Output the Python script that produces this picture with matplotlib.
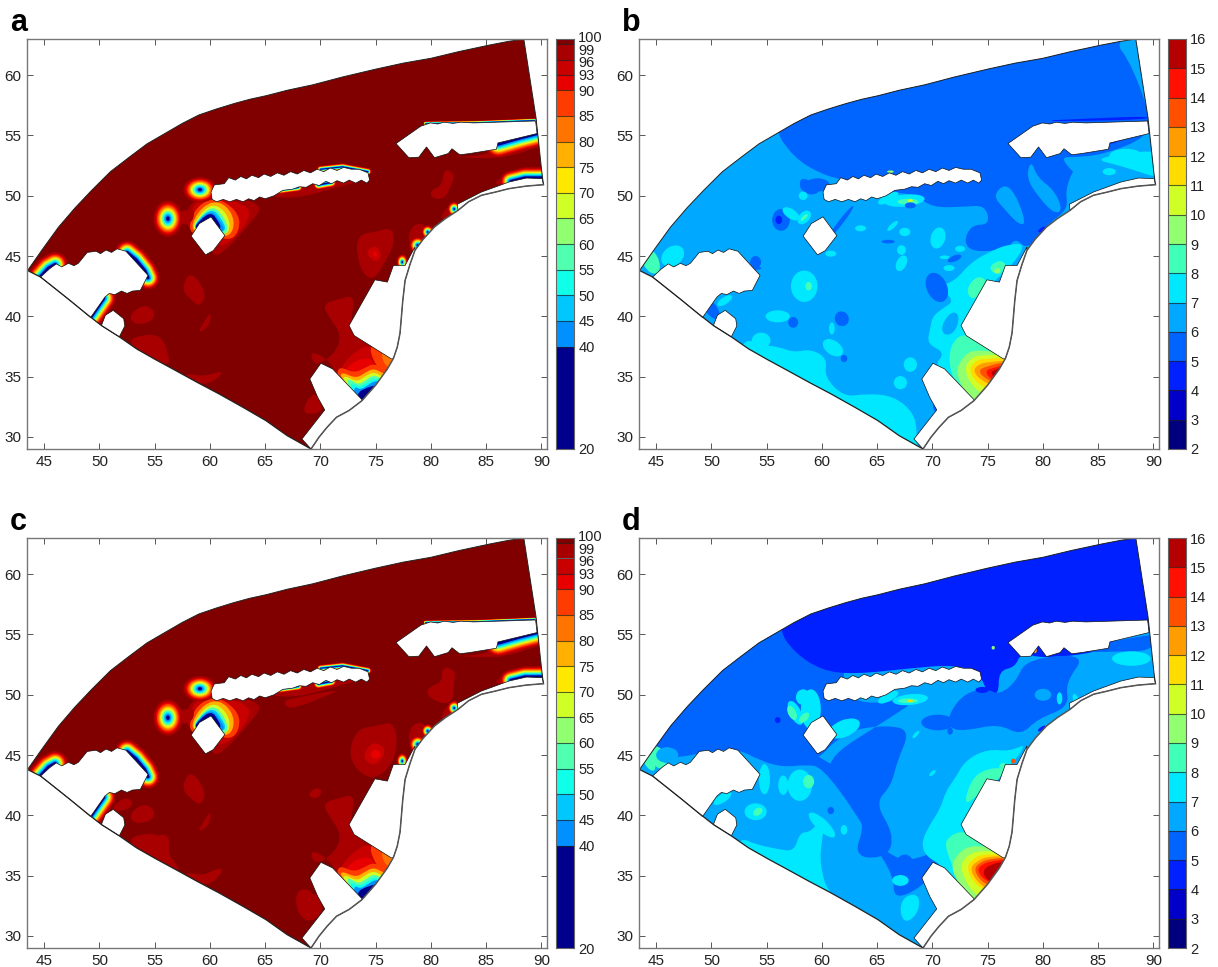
import matplotlib
matplotlib.use('Agg')
import matplotlib.pyplot as plt
from matplotlib.patches import Ellipse, PathPatch, Polygon
from matplotlib.path import Path
from matplotlib.transforms import ScaledTranslation

plt.rcParams['font.family'] = ['Liberation Sans', 'DejaVu Sans']

# colour classes: lower bound of each class, taken from the two colorbars
pct_levels = [20, 40, 45, 50, 55, 60, 65, 70, 75, 80, 85, 90, 93, 96, 99, 100]
pct_colors = ['#00008c', '#0090ff', '#00c8ff', '#10ffe8', '#50ffb0', '#90ff70', '#d0ff28', '#ffe800',
              '#ffb000', '#ff7400', '#ff3c00', '#e80000', '#c80000', '#a80000', '#800000']
err_levels = list(range(2, 17))
err_colors = ['#00007f', '#0000c8', '#0020ff', '#0064ff', '#00a8ff', '#00e8ff', '#40ffb8', '#90ff70',
              '#d0ff28', '#ffdc00', '#ff9c00', '#ff5000', '#ff1000', '#b40000']
x_ticks = [45, 50, 55, 60, 65, 70, 75, 80, 85, 90]
y_ticks = [30, 35, 40, 45, 50, 55, 60]

# domain outline
upper_edge = [(43.5, 43.8), (44.8, 45.5), (46.3, 47.4), (47.8, 49), (49.3, 50.45), (51, 52), (52.7, 53.2), (54.3, 54.3),
              (55.9, 55.15), (57.5, 56), (59.0, 56.7), (60.6, 57.2), (62.2, 57.65), (63.6, 58), (65.1, 58.3),
              (67, 58.75), (69.3, 59.2), (72, 59.85), (75, 60.5), (77.5, 61), (80, 61.4), (82.5, 61.95), (85.3, 62.5),
              (87, 62.8), (88.4, 63)]
east_edge = [(89.5, 56.5), (90.05, 51.8), (90.18, 50.92)]
coast = [(90.18, 50.92), (88.6, 50.8), (87.06, 50.59), (85.8, 50.3), (84.57, 50.04), (83.4, 49.5), (82.45, 48.79),
         (81.3, 48.1), (80.32, 47.41), (79.3, 46.4), (78.55, 45.47), (78.1, 44.3), (77.66, 42.98), (77.45, 41.3),
         (77.3, 39.66), (77.2, 38.6), (76.95, 37.44), (76.6, 36.5), (76.06, 35.64), (75, 34.3), (73.76, 33.01),
         (72.6, 32.2), (71.45, 31.63), (70.6, 30.8), (69.86, 29.97), (69.15, 29.0)]
lower_edge = [(69.15, 29.0), (67, 30.1), (65.07, 31.35), (63, 32.45), (60.82, 33.57), (58.9, 34.5), (56.91, 35.5),
              (55.1, 36.4), (53.37, 37.3), (51.8, 38.3), (50.18, 39.24), (48.7, 40.3), (47.34, 41.32), (46, 42.3),
              (44.68, 43.26), (43.5, 43.8)]

# blanked areas
hole_nw = [(44.68, 43.26), (45.5, 43.95), (46.1, 44.35), (46.6, 44.1), (47.2, 44.4), (47.7, 44.2), (48.1, 44.4),
           (48.9, 45.3), (49.7, 45.4), (50.1, 45.2), (50.6, 45.5), (51.1, 45.3), (51.6, 45.6), (52.4, 45.4),
           (54.4, 43.4), (53.7, 42.15), (53, 42.1), (52.5, 41.9), (52, 42.1), (51.4, 41.8), (50.9, 41.9),
           (50.5, 41.6), (49.2, 39.9), (48.7, 40.3), (47.34, 41.32), (46, 42.3)]
hole_small = [(50.18, 39.24), (50.55, 40.1), (51.25, 40.5), (52.2, 39.8), (52.3, 39.2), (51.8, 38.3)]
hole_hex = [(58.3, 46.65), (59.05, 47.7), (60.1, 48.25), (61.35, 46.7), (60.3, 45.45), (59.6, 45.1)]
hole_long = [(60.1, 50.3), (60.4, 50.9), (61.3, 51), (61.7, 51.5), (62.3, 51.3), (62.8, 51.6), (63.3, 51.4),
             (63.8, 51.7), (64.4, 51.5), (64.9, 51.8), (65.5, 51.6), (66.1, 51.9), (66.7, 51.7), (67.3, 52),
             (67.9, 51.8), (68.5, 52.1), (69.1, 51.9), (69.7, 52.2), (70.3, 52), (70.9, 52.3), (71.5, 52.1),
             (72.1, 52.35), (72.8, 52.2), (73.5, 52.2), (74.3, 51.9), (74.45, 51.3), (74.2, 51.05), (73.7, 51.3),
             (73.2, 51.05), (72.6, 51.3), (72.1, 51.05), (71.5, 51.25), (71, 51), (70.5, 51.2), (69.9, 50.85),
             (69.3, 51), (68.7, 50.7), (68.1, 50.75), (67.5, 50.55), (66.6, 50.45), (65.8, 50), (65, 49.75),
             (64.5, 49.9), (64, 49.6), (63.5, 49.75), (63, 49.5), (62.4, 49.7), (61.8, 49.5), (61.2, 49.7),
             (60.6, 49.5), (60.2, 49.7)]
hole_ne = [(76.84, 54.33), (79.08, 55.77), (79.96, 56.04), (80.6, 55.95), (81.2, 56.1), (82, 56), (82.7, 56.1), (83.87, 56.04),
           (89.47, 56.2), (89.6, 55.16), (86.06, 54.38), (85.92, 53.86), (83.5, 53.5), (82.6, 53.4), (81.9, 53.9),
           (81.56, 53.5), (80.32, 53.16), (79.6, 54.05), (78.9, 53.2), (78, 53.16)]
hole_strip = [(90.07, 51.42), (88.65, 51.47), (87.06, 51.14), (84.57, 50.31), (82.38, 49.29)] + coast[6::-1]
hole_east = [(78.55, 45.75), (77.66, 44.22), (76.6, 44.22), (76.06, 42.84), (74.93, 43.03), (72.59, 39.24),
             (73.05, 38.41), (76.42, 36.47)] + coast[10:18][::-1]
hole_south = [(70.04, 36.11), (71.1, 35.64), (73.76, 33.09)] + coast[20:26] + [(68.33, 29.83), (70.39, 32.24),
                                                                               (69.75, 33.29), (69.04, 34.81)]
holes = [hole_nw, hole_small, hole_hex, hole_long, hole_ne, hole_strip, hole_east, hole_south]

# panels a and c: sharp fronts along the blanked areas (line, width)
fronts_pct = [
    ([(52.5, 45.3), (53.3, 44.7), (54.1, 43.8), (54.4, 43.2)], 17),
    ([(44.7, 43.3), (45.4, 44.0), (46, 44.3)], 18),
    ([(49.2, 39.9), (50.4, 41.5)], 17),
    ([(86.1, 54.3), (88, 54.8), (89.7, 55.2)], 20),
    ([(87.2, 51.2), (88.5, 51.5), (90.2, 51.5)], 15),
    ([(66, 50.45), (68, 50.7)], 6),
    ([(69.8, 50.9), (71, 51.1)], 7),
    ([(70, 52.2), (72, 52.4), (74.3, 52)], 5),
    ([(79.5, 56.0), (84, 56.05), (89.4, 56.25)], 3),
]
rings_pct = [(56.2, 48.1, 2.6, 3.0, 0), (59.1, 50.5, 3.0, 2.1, 0),
             (79.7, 47.0, 1.1, 1.1, 0), (77.4, 44.5, 1.0, 1.3, 0), (82.1, 48.9, 1.2, 1.2, 0), (78.8, 45.9, 1.5, 1.4, 0)]

regions_a = [
    (96, [(57.7, 43), (58.3, 43.6), (59.3, 42.6), (59.6, 41.5), (59, 40.8), (58.2, 41.5), (57.6, 42)]),
    (96, [(52.8, 40.2), (54, 41), (55, 40.5), (54.9, 39.7), (53.8, 39.3), (52.9, 39.5)]),
    (96, [(58.9, 38.6), (59.5, 39.6), (60.1, 40.4), (60, 39.4), (59.5, 38.9)]),
    (96, [(52.5, 38), (54, 38.5), (55.6, 38.4), (56.2, 37), (56.4, 35.8), (54, 36.5)]),
    (96, [(57.7, 35.3), (59.5, 35), (61.5, 35.6), (60, 34.3), (58, 34.6)]),
    (96, [(73.2, 45.5), (73.5, 46.8), (75, 47), (76.5, 47.4), (76.7, 46), (76, 44.8), (74.9, 43), (73.8, 43.5)]),
    (93, [(74, 45.3), (75, 46), (75.6, 45), (75, 44.4)]),
    (90, [(74.7, 45.2), (75, 45.5), (75.2, 45), (74.9, 44.9)]),
    (96, [(80, 49.8), (80, 50.5), (81, 50.8), (81.2, 52.3), (82.2, 51.8), (81.8, 50.8), (81.2, 49.7)]),
    (96, [(80.9, 48.1), (81.3, 49), (82.4, 49.4), (82.5, 48.7), (81.5, 47.9)]),
    (96, [(77.9, 46.7), (78.5, 47.7), (79.5, 47.6), (80, 46.8), (79, 45.6), (78.2, 45.7)]),
    (96, [(85.5, 51), (87, 51.8), (90, 52.6), (90.3, 51.3), (87, 50.8)]),
    (96, [(81, 53.3), (84, 53.2), (86, 53.8), (89.7, 55), (89.8, 54), (86, 53)]),
    (96, [(65, 50.3), (68, 50.8), (71, 51.2), (74, 51.3), (71.5, 50.7), (68, 49.8), (65.5, 49.9)]),
    (96, [(57.6, 47.5), (58.2, 49.6), (60.5, 50), (65, 49.4), (63.6, 47.6), (60.5, 44.6), (60, 46)]),
    (93, [(58, 47.2), (58.5, 49.6), (60.5, 49.9), (63.5, 49.2), (63.6, 48), (61.6, 45.8), (60, 46)]),
    # crescent above the small diamond
    (85, [(58, 46.8), (58.5, 48.8), (60, 49.8), (61.5, 49.5), (62.9, 48.1), (62.2, 46.2), (60, 46.8)]),
    (75, [(58.2, 47), (58.8, 48.6), (60.2, 49.6), (61.5, 49.2), (62.3, 47.9), (61.8, 46.5), (60, 46.9)]),
    (65, [(58.3, 47.1), (59, 48.4), (60.2, 49.35), (61.3, 48.8), (61.9, 47.6), (61.5, 46.7), (60, 47)]),
    (55, [(58.4, 47.2), (59, 48.2), (60.2, 49.15), (61.1, 48.5), (61.7, 47.3), (61.3, 46.7), (60, 47)]),
    (45, [(58.5, 47.2), (59, 48.1), (60.2, 48.95), (61, 48.2), (61.6, 47), (60, 47)]),
    (40, [(58.5, 47.2), (59, 48), (60.1, 48.8), (60.8, 48.1), (61.5, 47), (60, 47)]),
    (20, [(58.5, 47.2), (59.1, 48), (60.1, 48.65), (60.7, 48), (61.1, 47.2), (60, 47)]),
    (96, [(56.5, 48.6), (57.5, 48.7), (58.6, 49), (58.5, 47.8), (57.3, 47.5)]),
    (96, [(69.6, 33.8), (68.6, 32.8), (68.5, 31.8), (70.4, 32.1)]),
    # south east plume, outlines run on under the blanked areas
    (96, [(70.2, 41), (71.5, 41.4), (73.2, 41.8), (72.6, 39.2), (75, 38.5), (77.5, 36.8), (76, 34), (73.8, 32), (71.5, 35),
          (70.8, 36.4), (69, 37.2), (69.5, 35.8), (71.4, 37), (71.9, 38.5), (70.8, 39.9)]),
    (93, [(72.3, 36.3), (73.2, 37.1), (74.4, 37.7), (76.9, 36.5), (76, 34.4), (74.2, 33), (71.7, 35.5)]),
    (85, [(74.4, 37.55), (74.8, 36.3), (75.3, 35.7), (76, 35.5), (77.2, 36.3), (75.7, 38)]),
    (80, [(75.5, 37.1), (75.7, 36.1), (76.4, 35.6), (77.3, 36.2), (76.3, 37.2)]),
    (75, [(75, 37.6), (76.6, 36.8), (76.6, 36.2), (76, 36.8)]),
    (90, [(72, 35.3), (72.8, 36.1), (73.7, 36.5), (74.6, 36.5), (74.9, 35.9), (74.2, 35.5), (73.2, 35.1)]),
    (85, [(71.6, 35.9), (73, 35.3), (74, 35.7), (74.8, 36.1), (75.7, 35.7), (76.7, 35.2), (76.5, 33.5), (74.2, 32.5),
          (71.5, 34.8)]),
    (75, [(71.9, 35.4), (73.2, 34.85), (74, 35.3), (74.8, 35.7), (75.7, 35.25), (76.7, 35), (76.5, 33.5), (74.2, 32.5),
          (71.8, 34.9)]),
    (65, [(72.2, 35.1), (73.3, 34.55), (74, 35), (74.8, 35.4), (75.6, 35), (76.5, 34.7), (76.5, 33.5), (74.2, 32.5),
          (72, 34.7)]),
    (55, [(72.5, 34.9), (73.4, 34.3), (74.1, 34.7), (74.8, 35.15), (75.6, 34.8), (76.3, 34.5), (76, 33), (74.2, 32.5),
          (72.4, 34.3)]),
    (50, [(72.8, 34.5), (73.5, 34.1), (74.2, 34.5), (74.9, 34.9), (75.5, 34.65), (76, 34.3), (75, 32.5), (74, 32.5),
          (72.7, 34)]),
    (40, [(73.1, 34.2), (73.6, 33.9), (74.3, 34.3), (75, 34.7), (75.6, 34.5), (75.8, 34), (74.5, 32.5), (73, 33.5)]),
    (20, [(73.4, 33.7), (74, 34), (74.6, 34.2), (75.4, 34.35), (75.7, 33.8), (74.4, 32.6), (73.4, 33.2)]),
]
extra_c = [
    (96, [(73, 44), (72.6, 45.5), (73.4, 47.2), (75, 47.4), (76.7, 47.8), (77, 45.5), (76, 43.6), (74.5, 43)]),
    (93, [(73.8, 45), (74.8, 46.2), (76, 45.5), (75.3, 44.3), (74.4, 44.2)]),
    (90, [(74.4, 45), (75, 45.6), (75.6, 45), (75, 44.6)]),
    (96, [(79.5, 50), (79.9, 50.7), (81, 51), (81, 52.4), (82.3, 52), (82, 50.6), (82, 49.5), (81, 49.2)]),
    (96, [(69, 41.9), (69.6, 42.3), (70.2, 42.1), (69.8, 41.4), (69, 41.5)]),
    (96, [(50.9, 40.5), (52.4, 41.6), (53.2, 41), (52.2, 40.3)]),
    (96, [(66.6, 49.5), (68, 49.8), (72, 50.5), (70, 49.7), (68, 49), (67, 48.9)]),
    (96, [(53.5, 37.5), (55.5, 38.5), (56.4, 38.2), (56.2, 36.7), (57.5, 35.4), (56, 35.3)]),
    (96, [(59, 34.9), (61.5, 35.9), (60.2, 34.2), (58.6, 34.4)]),
    (96, [(67.8, 33.6), (68.6, 34), (69.5, 33.4), (70.4, 32), (68.8, 31), (67.8, 32.2)]),
]

# panels b and d: painted in order, each entry is (class, outline)
regions_b = [
    (5, [(55.5, 55.8), (57.4, 53.2), (59.9, 51.8), (62, 51.3), (66, 50.3), (68.5, 50.1), (70, 49), (73, 49.1),
         (74.8, 49.2), (75.2, 47.6), (73.5, 47.6), (72.8, 46.1), (73.8, 45.3), (76.8, 45.6), (77.5, 46.5),
         (78.5, 45.6), (79.5, 46.5), (80.5, 47.7), (82.3, 48.9), (82, 50.5), (83, 52.7), (85.4, 53.4),
         (89.6, 54.9), (89.5, 57), (88.8, 59), (87.6, 61.5), (86.6, 62.6), (88.4, 64), (55, 64)]),
    (6, [(76.5, 51), (77.5, 50.2), (78.5, 47.7), (77.8, 47.6), (76.4, 49), (75.5, 50)]),
    (6, [(78.9, 53), (79.5, 51.5), (81, 50.5), (81.8, 48.8), (81, 48.5), (79.5, 50), (78.5, 51.5)]),
    (6, [(81.5, 53.2), (83, 53.2), (85.3, 53.4), (89.9, 54.8), (91, 54), (91, 51), (88, 51.3), (85, 50.2), (83.2, 51.5)]),
    (7, [(84.8, 53), (87, 53.5), (91, 53.8), (91, 51.3), (88, 52.2), (86.5, 52.6)]),
    (4, [(89.6, 55.2), (87, 54.6), (86, 54.2), (86.2, 54.7), (87, 55.2)]),
    (4, [(79.4, 56.2), (84, 56.2), (89.5, 56.35), (89.5, 56.6), (84, 56.4)]),
    (5, [(58, 51.4), (58.7, 51.4), (60, 50.4), (59, 50), (58, 50.5)]),
    (7, [(53, 38.2), (54.5, 37.6), (56, 37.5), (57.5, 37), (59, 37.3), (60.5, 36.5), (60.2, 35), (62, 33.3),
         (64, 33.6), (66.5, 33.4), (68.3, 32), (68.6, 30.5), (68.5, 29.5), (69.3, 28), (60, 31), (52, 36)]),
    (7, [(70, 35.8), (71.2, 37), (69.5, 37.7), (69.8, 39), (70, 40), (71, 40.7), (72, 41.3), (70.5, 42.5), (72, 42.9),
         (73.5, 44.5), (75.5, 45.5), (77, 46), (78.5, 46), (77, 44), (75, 42.5), (72.5, 38.5), (77, 37), (74, 32)]),
    (6, [(70.8, 39.3), (71.8, 40.5), (72.5, 40), (72, 38.6), (71, 38.4)]),
    (8, [(73, 42.2), (74, 43.4), (75, 43), (74.4, 42), (73.6, 41.3)]),
    (8, [(75, 44), (76, 44.7), (76.8, 44.3), (76, 43.3)]),
    (9, [(75.5, 43.8), (76, 44.1), (76.2, 43.7), (75.8, 43.5)]),
    (8, [(71.5, 37.6), (73, 38.8), (77.5, 37), (76, 33), (73.8, 32), (71.6, 35)]),
    (9, [(72, 35.2), (72.7, 36.6), (73.8, 37.3), (77.3, 36.8), (75.5, 33), (73.8, 32.5)]),
    (10, [(72.8, 35.5), (73.5, 36.6), (74.5, 36.8), (77, 36.8), (75.5, 33.6), (74, 33.7)]),
    (11, [(73.2, 35.5), (74, 36.4), (75, 36.5), (77, 36.6), (75.6, 34), (74.3, 34.2)]),
    (12, [(73.6, 35.5), (74.3, 36.1), (75.2, 36.2), (77, 36.4), (75.7, 34.2), (74.5, 34.6)]),
    (13, [(74.1, 35.5), (75, 35.9), (77, 36.3), (75.9, 34.4), (74.8, 34.8)]),
    (14, [(74.8, 35.5), (75.4, 35.7), (77, 36.1), (76, 34.5), (75.1, 34.9)]),
    (15, [(75.2, 35.3), (75.7, 35.6), (76.8, 35.9), (76, 34.6)]),
]
spots_b = [
    (5, 56.3, 48, 1.6, 1.8, 0), (4, 56.1, 48, .6, .7, 0), (5, 59.6, 50.9, 2.2, 1.1, 0), (7, 58.3, 50, .8, .7, 0),
    (7, 57.2, 48.5, .8, 1.7, 60), (7, 58.4, 48.2, 1.4, .9, 40), (8, 58.4, 48.2, .8, .3, 40),
    (7, 66, 49.8, 2.0, .7, 25), (7, 67.5, 49.6, 3.6, 1.0, 5), (8, 67.8, 49.5, 1.9, .5, 0), (10, 68, 49.6, .5, .25, 0),
    (7, 63.5, 47.3, 1.0, .5, 0), (7, 67.5, 47, 1.0, .7, 0), (7, 66.4, 47.5, 1.2, .4, 40), (5, 61.7, 47.8, 3.5, .4, 50),
    (7, 58.4, 42.5, 2.4, 2.6, 0), (8, 58.8, 42.5, .6, .7, 0), (7, 67.2, 44.4, 1.4, .9, 60), (7, 70.5, 46.5, 1.8, 1.3, 70),
    (5, 68, 49.2, 1.0, .5, 0), (5, 70.4, 42.4, 1.8, 2.6, 30), (5, 72, 44.8, 1.3, .5, 20), (7, 71.5, 44, 1.0, .5, 0),
    (7, 56, 40, 2.2, 1, 0), (5, 57.4, 39.5, .9, .9, 0), (5, 61.8, 39.8, 1.2, 1.3, 60), (7, 61, 37.4, 1.2, 2, 60),
    (7, 60.9, 39.0, .5, 1.0, 0), (7, 54.5, 38, 1.7, 1.3, 0), (7, 68, 36, 1.2, 1.2, 0), (7, 67.1, 34.5, 1.2, 1.1, 0),
    (5, 70.3, 32.6, .5, 1, 0), (5, 62, 36.5, .6, .6, 0), (5, 50, 40.6, 1, 2, 40), (7, 51.2, 41.3, 1.5, .6, 30),
    (7, 46.5, 45, 2.2, 1.6, 30), (8, 44.5, 44.6, 1.4, 2.3, 30), (7, 67.2, 45.5, .8, .8, 0), (7, 72.5, 45.6, .9, .5, 0),
    (5, 54, 44.5, 1.0, 1.0, 0), (5, 54, 44, 1.0, .3, 0), (7, 87.5, 53.3, 3, 1.2, 0), (7, 86, 52, 1.2, .6, 0),
    (3, 87.9, 50.9, 1.0, .5, 0), (2, 88, 50.8, .4, .3, 0), (4, 79.9, 47.2, .8, .3, 30), (5, 78.5, 44.4, .9, .4, 0),
    (5, 66, 46.2, 1.2, .3, 0), (7, 60.8, 45.2, 1, .5, 0), (7, 71.1, 44.9, .9, .3, 0), (9, 66.2, 52, .6, .2, 0),
]
regions_d = [
    (5, [(55.7, 55.3), (58, 52.5), (60, 51.8), (60, 50), (58, 50.5), (57, 48.5), (58, 46), (61, 44), (63, 44),
         (65, 46), (66, 45), (64, 41.5), (66, 38), (64.5, 38), (67, 36.2), (69, 36.5), (70, 37), (71, 36.2),
         (69, 34), (66.5, 33), (66.5, 35), (64.5, 37.8), (63, 40.3), (60, 44), (58.6, 44.2), (56.5, 44),
         (54.5, 44.5), (52, 45.7), (45.5, 44.5), (44.8, 45.5), (46, 49), (50, 52), (55, 56)]),
    (5, [(46, 44.8), (44.2, 46.5), (47, 52), (55, 57), (58, 54), (62, 54), (62, 49), (69, 49.8), (66, 48), (60, 44.5),
         (62, 42.5), (64, 39.5), (62.8, 36.5), (66, 36.5), (66.5, 38.5), (64.8, 41), (66.3, 42.5), (66.8, 44.5),
         (68, 47), (66, 47.5), (62, 47), (59, 44), (55, 44.5), (52.5, 45.8)]),
    (4, [(56, 55.5), (57.5, 53.5), (60, 52), (63, 51.7), (68, 52.2), (72, 52.5), (74.3, 51.8), (75, 50), (76, 50),
         (76, 52), (77.5, 52.3), (78, 53.5), (80, 53), (85, 53.5), (86, 54.4), (89.7, 55.3), (91.5, 55.5), (91.5, 65),
         (55, 65)]),
    (5, [(75, 50.5), (73, 50.2), (71.5, 48.5), (71.5, 47.2), (73, 47), (76, 47.6), (78, 46.6), (79.5, 48),
         (82.4, 49), (82, 51), (84, 53.4), (78.5, 53), (77.5, 51), (76, 50)]),
    (5, [(83.5, 53.5), (86, 54.4), (89.9, 55), (91, 55), (89.6, 53.6), (87, 53.6)]),
    (7, [(52.5, 38.2), (54, 37.6), (56, 37.2), (57.5, 37), (58, 38.6), (59, 38.6), (60.4, 40.2), (60, 38),
         (59.8, 36), (60.6, 33.3), (65, 31), (68.6, 29.2), (69.3, 28), (60, 31), (52, 36)]),
    (7, [(67.6, 31), (68.8, 32), (68.8, 33.5), (67.4, 33.3), (67, 32)]),
    (7, [(69.4, 36.6), (69, 37.7), (69.6, 39), (70.7, 40.5), (71.2, 42), (72, 43), (73, 44.6), (75, 45.5),
         (77, 45.3), (78.6, 46), (77, 44), (75, 42.5), (72.5, 38.5), (77, 37), (74, 32), (71, 35.8)]),
    (8, [(72.8, 40.6), (73.4, 42.8), (74.6, 43.8), (76.6, 44), (76, 42.9), (75, 42.5)]),
    (8, [(71, 37.3), (71.5, 38.3), (73, 38.8), (77.5, 37), (76, 32.5), (73.8, 32)]),
    (9, [(71.5, 35.5), (72.4, 37), (73.8, 37.6), (77.3, 36.9), (75.5, 32.8), (73.8, 32.5)]),
    (10, [(72.4, 35.5), (73, 36.6), (74.2, 37.1), (77, 36.9), (75.5, 33.3), (74, 33.1)]),
    (11, [(73, 35.5), (73.6, 36.4), (74.6, 36.8), (77, 36.7), (75.6, 33.9), (74.3, 33.8)]),
    (12, [(73.3, 35.5), (74, 36.2), (75, 36.6), (77, 36.6), (75.6, 34), (74.5, 34)]),
    (13, [(73.7, 35.5), (74.3, 36.1), (75.2, 36.4), (77, 36.5), (75.7, 34.2), (74.6, 34.3)]),
    (14, [(74, 35.5), (74.6, 36), (75.4, 36.2), (77, 36.4), (75.8, 34.3), (74.7, 34.6)]),
    (15, [(74.5, 35.3), (75.1, 35.9), (77, 36.3), (75.9, 34.2), (75, 34.6)]),
]
spots_d = [
    (7, 59, 48.8, 1.8, 3.3, 0), (7, 57.6, 48.5, 1, 2.2, 30), (8, 57.3, 48.5, .7, 1.3, 30), (8, 58.4, 48.1, 1.1, .6, 40),
    (8, 58.3, 50, .7, .6, 0), (7, 58.3, 49.8, 1.3, 1.3, 0), (5, 56.3, 48, .6, .6, 0), (4, 56, 47.9, .5, .5, 0),
    (7, 62, 47.2, 3, 1.4, 20), (7, 66, 49.8, 2, .7, 25), (7, 68, 49.6, 3.2, .9, 5), (8, 67.8, 49.5, 1.8, .4, 0),
    (11, 68, 49.5, .5, .2, 0), (5, 60.8, 40.4, .6, .6, 0), (5, 65, 48.2, 1.3, .5, 0), (4, 74.5, 50.4, 1.2, .5, 0),
    (7, 58, 42.5, 2.2, 2.6, 0), (8, 58.8, 42.8, 1.0, 1.1, 0), (7, 54.8, 43, 1, 2.5, 0), (7, 56.5, 42.5, .9, 1.6, 0),
    (6, 53, 39.6, 2.4, 1.4, 0), (7, 54, 40.3, 2, 1.4, 0), (8, 54.2, 40.3, .9, .6, 30), (7, 51, 41.4, 1.8, .7, 30),
    (7, 60, 39.2, 1, 3, 50), (7, 62, 38.8, .6, .8, 0), (7, 67.1, 34.6, 1.5, .9, 0), (5, 67.5, 36, 1.5, 1.5, 0),
    (5, 70.5, 47.7, 3, 1.3, 0), (7, 68.5, 46.7, .8, .3, 45), (7, 70, 43.5, .7, .3, 40), (5, 71.6, 47, .5, .6, 0),
    (12, 79.3, 53.7, .3, .5, 0), (13, 64, 51.5, .3, .2, 0), (12, 73.4, 51.9, .3, .3, 0), (9, 75.5, 53.9, .3, .3, 0),
    (13, 77.3, 44.5, .4, .4, 0), (8, 76.4, 44, .7, .7, 0), (3, 87.9, 50.9, 1, .5, 0), (2, 88, 50.8, .4, .3, 0),
    (4, 79.9, 47.2, .8, .3, 30), (7, 88, 53, 3.5, 1.2, 0), (8, 45.2, 44.8, 1.3, 2, 30), (8, 44.3, 44.6, .9, 2, 30),
    (6, 46, 45, 2, 1.3, 0), (6, 80, 50, 1.5, 1, 0), (7, 81.5, 49.7, .5, 1, 0), (7, 83, 49.5, .5, 1.2, 20),
]

panels = [('a', 27, 39, 'pct', regions_a, []), ('b', 639, 39, 'err', regions_b, spots_b),
          ('c', 27, 538, 'pct', regions_a + extra_c, []), ('d', 639, 538, 'err', regions_d, spots_d)]

W, H = 1218, 967


def px_axes(fig, x, y, w, h):
    return fig.add_axes([x / W, 1 - (y + h) / H, w / W, h / H])


def curved(pts):
    # closed outline with rounded corners
    mids = [((pts[i][0] + pts[(i + 1) % len(pts)][0]) / 2, (pts[i][1] + pts[(i + 1) % len(pts)][1]) / 2)
            for i in range(len(pts))]
    verts = [mids[-1]]
    codes = [Path.MOVETO]
    for p, m in zip(pts, mids):
        verts += [p, m]
        codes += [Path.CURVE3, Path.CURVE3]
    return Path(verts, codes)


def colorbar(fig, cax, levels, colors):
    heights = [b - a for a, b in zip(levels[:-1], levels[1:])]
    cax.bar(0, heights, bottom=levels[:-1], width=1, color=colors, align='edge')
    cax.hlines(levels[1:-1], 0, 1, color='#202020', lw=0.8, alpha=0.7)
    cax.set_xlim(0, 1)
    cax.set_ylim(levels[0], levels[-1])
    cax.set_xticks([])
    cax.set_yticks(levels)
    cax.yaxis.tick_right()
    cax.tick_params(axis='y', length=0, pad=3, labelsize=10.5, labelcolor='#222222')
    # the top labels crowd each other, so they are spread a little
    nudges = {100: 1.5, 99: -3.6, 96: -1.2}
    for lev, lab in zip(levels, cax.get_yticklabels()):
        if lev in nudges:
            lab.set_transform(lab.get_transform() + ScaledTranslation(0, nudges[lev] / 72, fig.dpi_scale_trans))
    for s in cax.spines.values():
        s.set_color('#666666')
        s.set_linewidth(0.8)


domain = upper_edge + east_edge + coast[1:] + lower_edge[1:-1]
front_classes = [96, 90, 85, 80, 75, 70, 65, 60, 55, 50, 45, 40, 20]
front_scale = [1.0, .86, .76, .68, .61, .55, .49, .44, .38, .33, .27, .21, .13]

fig = plt.figure(figsize=(W / 100, H / 100), dpi=100)
for letter, px, py, kind, regions, spots in panels:
    ax = px_axes(fig, px, py, 520, 410)
    levels, colors = (pct_levels, pct_colors) if kind == 'pct' else (err_levels, err_colors)
    col = dict(zip(levels, colors))
    base = 99 if kind == 'pct' else 6
    shape = Polygon(domain, closed=True, facecolor=col[base], edgecolor='none', zorder=1)
    ax.add_patch(shape)

    for lev, pts in regions:
        p = PathPatch(curved(pts), facecolor=col[lev], edgecolor='none', zorder=2)
        ax.add_patch(p)
        p.set_clip_path(shape)
    for lev, x, y, w, h, ang in spots:
        p = Ellipse((x, y), w, h, angle=ang, facecolor=col[lev], edgecolor='none', zorder=3)
        ax.add_patch(p)
        p.set_clip_path(shape)
    if kind == 'pct':
        for x, y, w, h, ang in rings_pct:
            for lev, f in zip(front_classes, front_scale):
                p = Ellipse((x, y), w * f, h * f, angle=ang, facecolor=col[lev], edgecolor='none', zorder=3)
                ax.add_patch(p)
                p.set_clip_path(shape)
        for pts, lw in fronts_pct:
            for lev, f in zip(front_classes, front_scale):
                ln, = ax.plot(*zip(*pts), color=col[lev], lw=lw * f, solid_capstyle='round', zorder=4)
                ln.set_clip_path(shape)

    for hole in holes:
        ax.add_patch(Polygon(hole, closed=True, facecolor='white', edgecolor='#111111', lw=0.5, zorder=5))
    ax.plot(*zip(*(upper_edge + east_edge)), color='#222222', lw=0.7, zorder=6)
    ax.plot(*zip(*coast), color='#555555', lw=1.1, zorder=6)
    ax.plot(*zip(*lower_edge), color='#222222', lw=0.9, zorder=6)

    ax.set_xlim(43.45, 90.5)
    ax.set_ylim(29, 63)
    ax.set_xticks(x_ticks)
    ax.set_yticks(y_ticks)
    ax.tick_params(direction='in', top=True, right=True, length=4, width=0.7, color='#555555',
                   labelsize=11, labelcolor='#222222', pad=4)
    for s in ax.spines.values():
        s.set_color('#777777')
        s.set_linewidth(1.0)
        s.set_zorder(7)

    cax = px_axes(fig, px + 529, py, 18, 410)
    colorbar(fig, cax, levels, colors)
    fig.text((px - 17) / W, 1 - (py - 8) / H, letter, fontsize=22, fontweight='bold', color='black')

plt.savefig('out.png', dpi=100)
